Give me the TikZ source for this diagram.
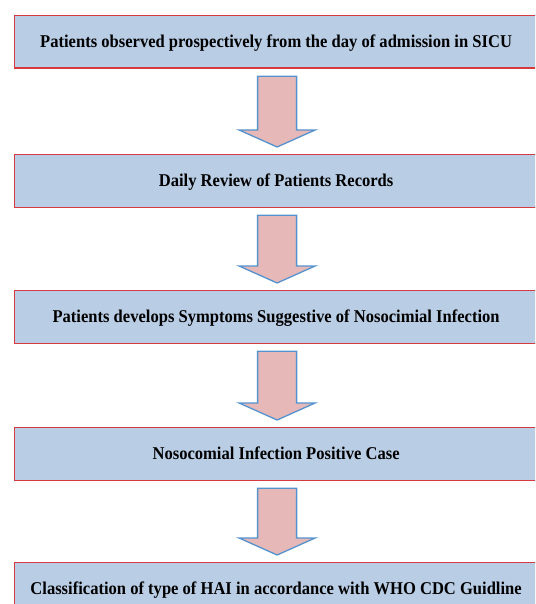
\documentclass[tikz,border=0pt]{standalone}
\usepackage{fontspec}
\setmainfont{Liberation Serif}[FakeStretch=0.92]
\usetikzlibrary{calc}
\definecolor{boxfill}{HTML}{B9CDE5}
\definecolor{boxline}{RGB}{212,58,64}
\definecolor{arrfill}{HTML}{E6B9B8}
\definecolor{arrline}{RGB}{84,146,208}
\tikzset{
  stepbox/.style={draw=boxline, fill=boxfill, line width=1.2pt, rectangle,
    minimum width=523pt, minimum height=52.5pt, anchor=north west,
    inner sep=0pt, text height=12pt, text depth=0pt,
    font=\fontsize{18}{20}\selectfont\bfseries},
  blockarrow/.style={draw=arrline, fill=arrfill, line width=1.3pt, line join=miter}
}
\newcommand{\downarrowblock}[2]{%
  \path let \p1=(#1.south), \p2=(#2.north) in
    coordinate (t) at (\x1+1pt,\y1-7.5pt)
    coordinate (k) at (\x1+1pt,\y2+7pt);
  \draw[blockarrow] ($(t)+(-19.5pt,0)$) -- ($(t)+(19.5pt,0)$) --
    ($(k)+(19.5pt,17pt)$) -- ($(k)+(38pt,17pt)$) -- (k) --
    ($(k)+(-38pt,17pt)$) -- ($(k)+(-19.5pt,17pt)$) -- cycle;
}
\begin{document}
\begin{tikzpicture}[x=1pt,y=1pt]
\useasboundingbox (0,0) rectangle (535,-604);
\begin{scope}
\clip (0,0) rectangle (535,-604);
\node[stepbox] (b1) at (14,-15) {Patients observed prospectively from the day of admission in SICU};
\node[stepbox] (b2) at (14,-154) {Daily Review of Patients Records};
\node[stepbox] (b3) at (14,-290) {Patients develops Symptoms Suggestive of Nosocimial Infection};
\node[stepbox] (b4) at (14,-427) {Nosocomial Infection Positive Case};
\node[stepbox] (b5) at (14,-562) {Classification of type of HAI in accordance with WHO CDC Guidline};
\downarrowblock{b1}{b2}
\downarrowblock{b2}{b3}
\downarrowblock{b3}{b4}
\downarrowblock{b4}{b5}
\end{scope}
\end{tikzpicture}
\end{document}
